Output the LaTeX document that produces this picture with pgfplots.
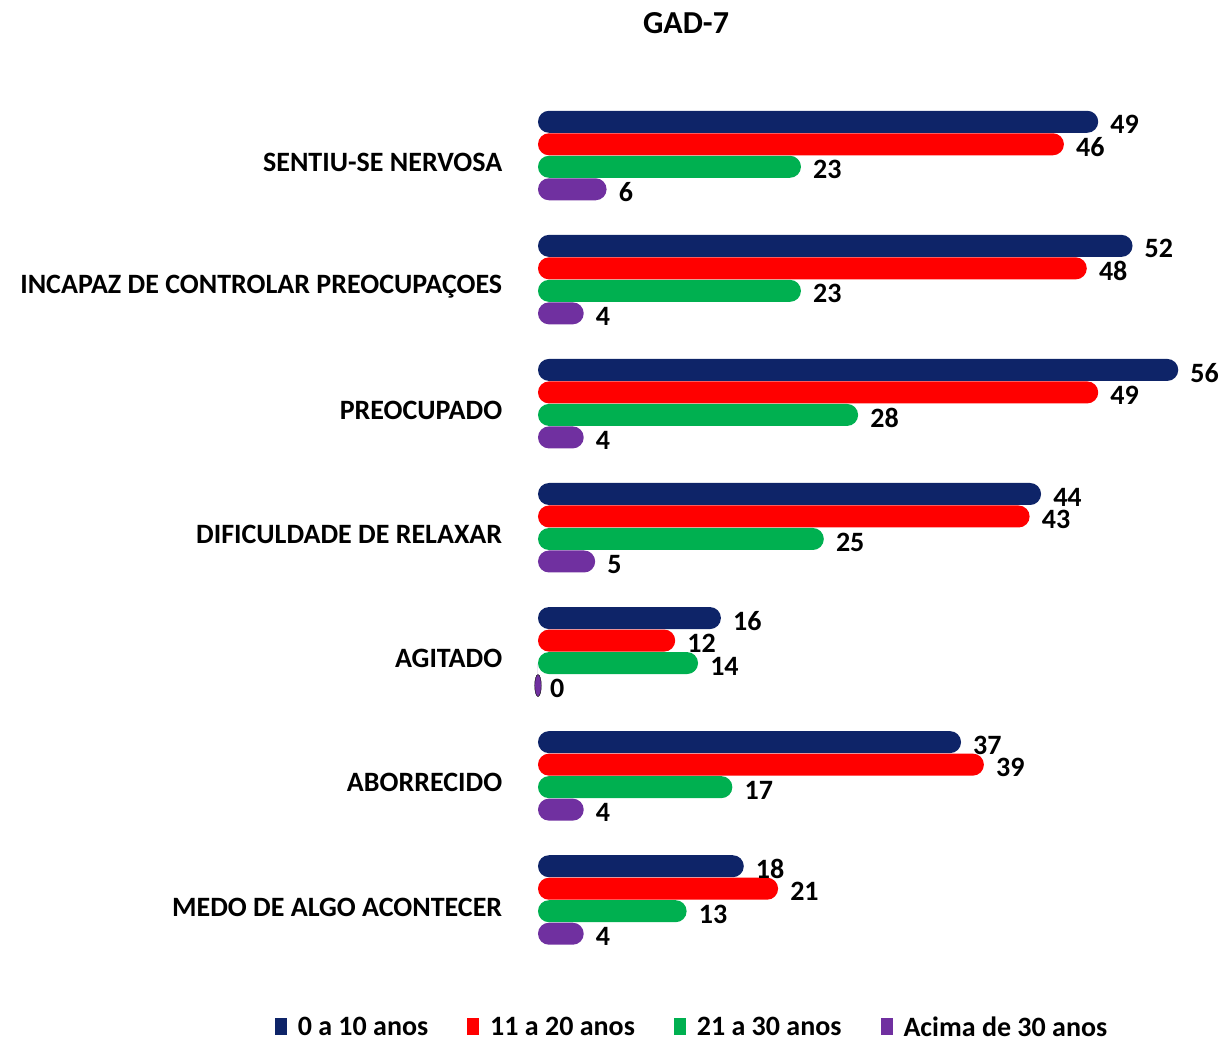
\documentclass[border=0pt]{standalone}
\usepackage{pgfplots}
\pgfplotsset{compat=1.18}
\usepackage{fontspec}
\setmainfont{Carlito}
\definecolor{c1}{RGB}{14,36,104}
\definecolor{c2}{RGB}{255,0,0}
\definecolor{c3}{RGB}{0,176,80}
\definecolor{c4}{RGB}{112,48,160}
\newcommand{\bigf}{\fontsize{28}{32}\selectfont\bfseries}
\begin{document}
\begin{tikzpicture}[x=1pt,y=1pt]
\useasboundingbox (0,0) rectangle (1224,1042);
\begin{axis}[
  at={(538pt,80pt)}, anchor=south west,
  scale only axis, width=686pt, height=868.5pt,
  xmin=0, xmax=60, ymin=-0.5, ymax=6.5,
  xbar, bar width=22pt,
  clip=false,
  axis line style={draw=none}, major tick style={draw=none},
  xtick=\empty,
  ytick={0,...,6},
  yticklabels={MEDO DE ALGO ACONTECER, ABORRECIDO, AGITADO, DIFICULDADE DE RELAXAR, PREOCUPADO, INCAPAZ DE CONTROLAR PREOCUPAÇOES, SENTIU-SE NERVOSA},
  yticklabel style={font=\bigf, xshift=-28pt, yshift=-7pt},
  nodes near coords,
  nodes near coords style={font=\bigf, text=black, anchor=west, inner sep=0pt, xshift=12pt, yshift=-3pt},
  /pgf/number format/assume math mode=true,
  legend columns=4,
  legend cell align=left,
  legend style={draw=none, at={(0.2245,-0.0748)}, anchor=center, font=\bigf,
    /tikz/every odd column/.append style={column sep=9pt},
    /tikz/every even column/.append style={column sep=37pt}},
]
\addplot[draw=none, rounded corners=11pt, fill=c1, bar shift=33.75pt,
  legend image code/.code={\fill[c1, sharp corners] (0pt,-8pt) rectangle (12pt,9pt);}]
  coordinates {(49,6) (52,5) (56,4) (44,3) (16,2) (37,1) (18,0)};
\addlegendentry{0 a 10 anos}
\addplot[draw=none, rounded corners=11pt, fill=c2, bar shift=11.25pt,
  legend image code/.code={\fill[c2, sharp corners] (0pt,-8pt) rectangle (12pt,9pt);}]
  coordinates {(46,6) (48,5) (49,4) (43,3) (12,2) (39,1) (21,0)};
\addlegendentry{11 a 20 anos}
\addplot[draw=none, rounded corners=11pt, fill=c3, bar shift=-11.25pt,
  legend image code/.code={\fill[c3, sharp corners] (0pt,-8pt) rectangle (12pt,9pt);}]
  coordinates {(23,6) (23,5) (28,4) (25,3) (14,2) (17,1) (13,0)};
\addlegendentry{21 a 30 anos}
\addplot[draw=none, rounded corners=11pt, fill=c4, bar shift=-33.75pt,
  legend image code/.code={\fill[c4, sharp corners] (0pt,-8pt) rectangle (12pt,9pt);}]
  coordinates {(6,6) (4,5) (4,4) (5,3) (0,2) (4,1) (4,0)};
\addlegendentry{Acima de 30 anos}
\addplot[forget plot, only marks, draw=none, nodes near coords={}, mark=*, mark size=11pt,
  mark options={xscale=0.3, yshift=-33.75pt, fill=c4, draw=none}]
  coordinates {(0,2)};
\end{axis}
\node[font=\fontsize{32}{36}\selectfont\bfseries] at (686,1019) {GAD-7};
\end{tikzpicture}
\end{document}
